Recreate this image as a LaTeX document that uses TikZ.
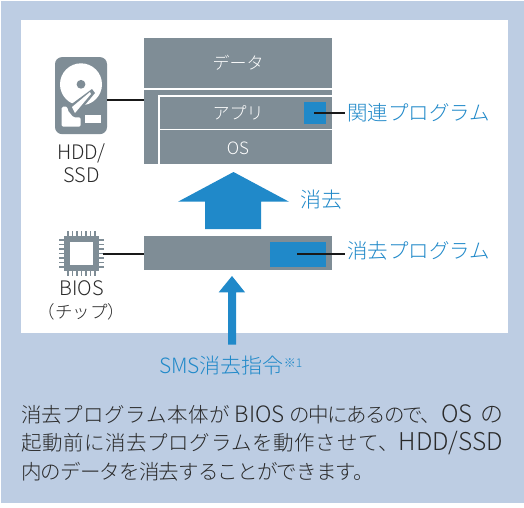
\documentclass[tikz,border=0pt]{standalone}
\usepackage{fontspec}
\setmainfont{Noto Sans CJK JP Light}
\usetikzlibrary{positioning,calc}
\definecolor{panelblue}{HTML}{BDCDE3}
\definecolor{stackgrey}{HTML}{7F8D96}
\definecolor{progblue}{HTML}{2089C9}
\definecolor{bodytext}{HTML}{2A2A2A}
\newcommand{\tracked}[2]{{\addfontfeature{LetterSpace=#1}#2}}
\newcommand{\latin}[2]{{\fontsize{#1}{24}\selectfont #2}}
\tikzset{sized/.style 2 args={minimum width=#1pt,minimum height=#2pt}}
\tikzstyle{erase diagram}=[
    x=1pt,y=-1pt,
    every node/.style={inner sep=0pt,outer sep=0pt,align=center},
    block/.style={fill=stackgrey,anchor=north west},
    prog/.style={fill=progblue,anchor=north west},
    blocktext/.style={text=white,font=\fontsize{17}{20}\selectfont},
    devlabel/.style={text=bodytext,font=\fontsize{20}{23}\selectfont},
    bluelabel/.style={text=progblue,font=\fontsize{20.5}{24}\selectfont},
    bodyline/.style={text=bodytext,anchor=west,font=\fontsize{20.5}{24}\selectfont},
    leader/.style={draw=black!90,line width=1.7pt},
    divider/.style={draw=white,line width=1.2pt},
    uparrow/.style={fill=progblue},
]
\begin{document}
\begin{tikzpicture}[erase diagram]
    \useasboundingbox (0,0) rectangle (524,507);
    \fill[white] (0,0) rectangle (524,507);
    \fill[panelblue] (1,1) rectangle (524,503);
    \fill[white] (21,20) rectangle (508,333);

    % disk stack
    \node[block,sized={188}{50}] (data) at (144,38) {};
    \node[block,sized={188}{74}] (disk) at (144,90) {};
    \node[blocktext] (datatext) at (238,63) {データ};
    \node[blocktext] (apptext) at (238,113) {アプリ};
    \node[blocktext] (ostext) at (238,148) {OS};
    \draw[divider] (159,164) -- (159,96) -- (332,96);
    \draw[divider] (159,129.5) -- (332,129.5);
    \node[prog,sized={22}{22}] (related) at (304,102) {};

    % bios bar
    \node[block,sized={188}{34}] (bar) at (144,236) {};
    \node[prog,sized={56}{25}] (eraser) at (270,242) {};

    % hdd icon
    \node[fill=stackgrey,rounded corners=7pt,sized={52}{77}] (hdd) at (81,95.6) {};
    \fill[white] (81,84.3) circle (21);
    \fill[stackgrey] (81,84.3) circle (4.4);
    \fill[stackgrey] (92,89) -- (69,106) -- (74,118) -- (95,93) -- cycle;
    \fill[white] (90,92) -- (72,107) -- (75,113) -- (91,94) -- cycle;
    \fill[white,rounded corners=1.5pt] (61.7,106.7) -- (67.5,106.7) -- (67.5,110)
        -- (73.3,117.3) -- (80.7,117.3) -- (80.7,126.7) -- (61.7,126.7) -- cycle;
    \fill[white] (85.3,115) rectangle (100.7,122.7);
    \node[devlabel,align=center] (hddlabel) at (81.5,163) {HDD/\\SSD};

    % chip icon
    \node[fill=stackgrey,sized={35}{35}] (chip) at (81.6,253.4) {};
    \node[fill=white,sized={23.4}{23}] (chiphole) at (81.6,253.4) {};
    \foreach \p in {-13.5,-9,...,13.5} {
        \fill[stackgrey] (81.6+\p-0.8,230.7) rectangle (81.6+\p+0.8,236.2);
        \fill[stackgrey] (81.6+\p-0.8,270.6) rectangle (81.6+\p+0.8,275.8);
        \fill[stackgrey] (59,253.4+\p-0.8) rectangle (64.4,253.4+\p+0.8);
        \fill[stackgrey] (98.8,253.4+\p-0.8) rectangle (104,253.4+\p+0.8);
    }
    \node[devlabel] (chiplabel) at (81.5,300.5) {BIOS\\{\fontsize{17.5}{23}\selectfont（チップ）}};

    % labels
    \node[bluelabel,anchor=west] (relatedlabel) at (347,112.5) {関連プログラム};
    \node[bluelabel,anchor=west] (eraserlabel) at (347,250.5) {消去プログラム};
    \node[bluelabel,anchor=west] (eraselabel) at (300,200) {\latin{21}{消去}};
    \node[bluelabel,anchor=west] (smslabel) at (159,366) {\latin{21}{SMS消去指令}\raisebox{6pt}{\fontsize{12}{12}\selectfont ※1}};

    % leaders
    \coordinate (hddend) at (144,100);
    \coordinate (chipend) at (144,253.7);
    \coordinate (relatedend) at (345,112.7);
    \coordinate (eraserend) at (345,253.7);
    \draw[leader] (hddend -| hdd.east) -- (hddend);
    \draw[leader] (chipend -| chip.east) ++(3.5,0) -- (chipend);
    \draw[leader] (related.center) ++(-1,-0.3) -- (relatedend);
    \draw[leader] (eraserend -| eraser.center) ++(-1,0) -- (eraserend);

    % arrows
    \fill[uparrow] (233.5,172) -- (289,201.7) -- (261,201.7) -- (261,229)
        -- (205,229) -- (205,201.7) -- (178,201.7) -- cycle;
    \fill[uparrow] (232,276) -- (245,292.3) -- (236,292.3) -- (236,344.7)
        -- (228,344.7) -- (228,292.3) -- (218.7,292.3) -- cycle;

    % text under the panel
    \node[bodyline] (line1) at (21,414) {\tracked{2.4}{消去プログラム本体が}\hspace{5pt}\latin{22.5}{BIOS}\hspace{5pt}\tracked{-8}{の中にあるので、}\latin{24}{OS}\hspace{8pt}\latin{23}{の}};
    \node[bodyline] (line2) at (21,443) {\tracked{3}{起動前に消去プログラムを動作させて、}\latin{24.5}{HDD/SSD}};
    \node[bodyline] (line3) at (21,472) {\tracked{-4}{内のデータを消去することができます。}};
\end{tikzpicture}
\end{document}
